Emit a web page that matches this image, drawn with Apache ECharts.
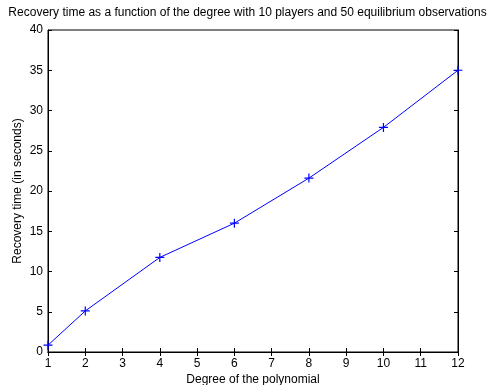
<!DOCTYPE html>
<html><head><meta charset="utf-8">
<script src="https://cdn.jsdelivr.net/npm/echarts@6/dist/echarts.min.js"></script>
<style>html,body{margin:0;padding:0;background:#fff}#c{width:495px;height:385px}</style>
</head><body><div id="c"></div>
<script>
const degrees = [1, 2, 4, 6, 8, 10, 12];
const recoveryTimes = [0.85, 5.1, 11.75, 16.0, 21.6, 27.9, 35.0];
const titleText = 'Recovery time as a function of the degree with 10 players and 50 equilibrium observations';
const xName = 'Degree of the polynomial';
const yName = 'Recovery time (in seconds)';

const font = 'Liberation Sans, Arial, sans-serif';
const chart = echarts.init(document.getElementById('c'));
const tickCommon = {show: true, inside: true, length: 4, lineStyle: {color: '#000', width: 1}};
chart.setOption({
  animation: false,
  backgroundColor: '#fff',
  title: {text: titleText, left: 'center', top: 2, textStyle: {fontFamily: font, fontSize: 12, fontWeight: 'normal', color: '#000'}},
  grid: {left: 48, right: 37, top: 30, bottom: 33, outerBoundsMode: 'none', containLabel: false, show: true, borderColor: '#000', borderWidth: 1, backgroundColor: 'transparent'},
  xAxis: [
    {type: 'value', min: 1, max: 12, interval: 1, position: 'bottom',
     name: xName, nameLocation: 'middle', nameGap: 22, nameMoveOverlap: false,
     nameTextStyle: {fontFamily: font, fontSize: 12, color: '#000'},
     axisLine: {show: true, onZero: false, lineStyle: {color: '#000'}},
     axisTick: tickCommon, splitLine: {show: false},
     axisLabel: {fontFamily: font, fontSize: 12, color: '#000', margin: 6}},
    {type: 'value', min: 1, max: 12, interval: 1, position: 'top',
     axisLine: {show: true, lineStyle: {color: '#000'}},
     axisTick: tickCommon, splitLine: {show: false}, axisLabel: {show: false}}
  ],
  yAxis: [
    {type: 'value', min: 0, max: 40, interval: 5, position: 'left',
     name: yName, nameLocation: 'middle', nameGap: 24, nameRotate: 90, nameMoveOverlap: false,
     nameTextStyle: {fontFamily: font, fontSize: 12, color: '#000'},
     axisLine: {show: true, onZero: false, lineStyle: {color: '#000'}},
     axisTick: tickCommon, splitLine: {show: false},
     axisLabel: {fontFamily: font, fontSize: 12, color: '#000', margin: 5}},
    {type: 'value', min: 0, max: 40, interval: 5, position: 'right',
     axisLine: {show: true, lineStyle: {color: '#000'}},
     axisTick: tickCommon, splitLine: {show: false}, axisLabel: {show: false}}
  ],
  series: [{
    type: 'line',
    data: degrees.map((d, i) => [d, recoveryTimes[i]]),
    lineStyle: {color: '#0000ff', width: 1},
    symbol: 'path://M0,5L10,5M5,0L5,10',
    symbolSize: 9,
    showSymbol: true,
    itemStyle: {color: 'transparent', borderColor: '#0000ff', borderWidth: 1.2},
    emphasis: {disabled: true}
  }]
});
</script></body></html>
